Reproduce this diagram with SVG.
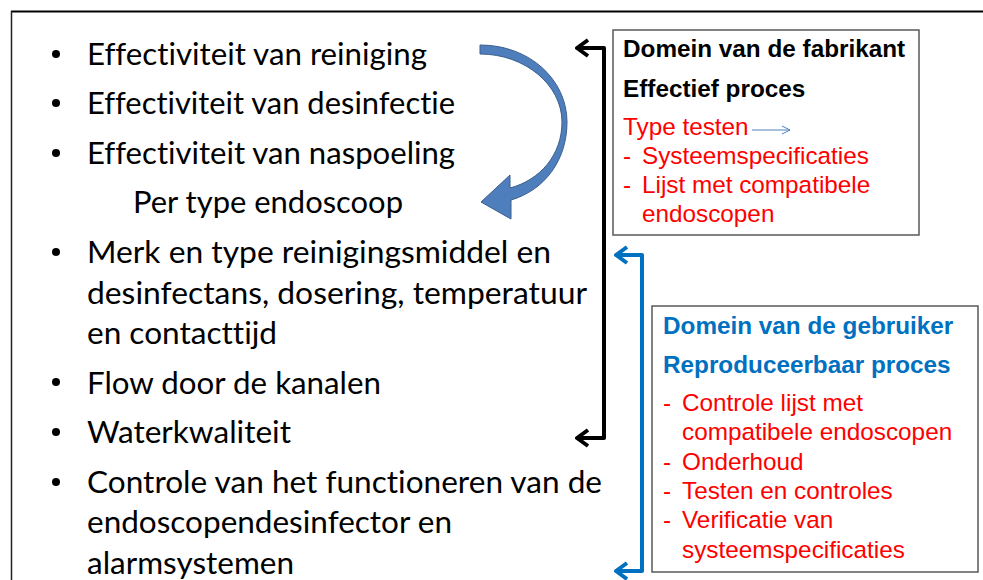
<svg xmlns="http://www.w3.org/2000/svg" width="983" height="580" viewBox="0 0 983 580">
<style>
.lt{font-family:Lato,"Open Sans","Noto Sans",sans-serif;font-size:30px;fill:#000;font-variant-ligatures:none}
.bx{font-family:"Liberation Sans",Arial,sans-serif;font-size:24.3px}
.b{font-weight:bold}
.red{fill:#FF0000}
.blu{fill:#0070C0}
.blk{fill:#000}
.box{fill:#fff;stroke:#595959;stroke-width:1.5}
.brk{fill:none;stroke-width:4;stroke-linejoin:round;stroke-linecap:butt}
</style>
<rect width="983" height="580" fill="#fff"/>
<g id="frame">
<line x1="11" y1="11.5" x2="983" y2="11.5" stroke="#000" stroke-width="2"/>
<line x1="11.5" y1="11" x2="11.5" y2="580" stroke="#222" stroke-width="1.5"/>
</g>
<g id="list">
<g fill="#000">
<circle cx="56" cy="54" r="4"/>
<circle cx="56" cy="103" r="4"/>
<circle cx="56" cy="153" r="4"/>
<circle cx="56" cy="252" r="4"/>
<circle cx="56" cy="382" r="4"/>
<circle cx="56" cy="432" r="4"/>
<circle cx="56" cy="482" r="4"/>
</g>
<text class="lt" x="87" y="65" textLength="340" lengthAdjust="spacingAndGlyphs">Effectiviteit van reiniging</text>
<text class="lt" x="87" y="114" textLength="368" lengthAdjust="spacingAndGlyphs">Effectiviteit van desinfectie</text>
<text class="lt" x="87" y="164" textLength="368" lengthAdjust="spacingAndGlyphs">Effectiviteit van naspoeling</text>
<text class="lt" x="133" y="213" textLength="270" lengthAdjust="spacingAndGlyphs">Per type endoscoop</text>
<text class="lt" x="87" y="263" textLength="464" lengthAdjust="spacingAndGlyphs">Merk en type reinigingsmiddel en</text>
<text class="lt" x="87" y="304" textLength="500" lengthAdjust="spacingAndGlyphs">desinfectans, dosering, temperatuur</text>
<text class="lt" x="87" y="344" textLength="190" lengthAdjust="spacingAndGlyphs">en contacttijd</text>
<text class="lt" x="87" y="394" textLength="294" lengthAdjust="spacingAndGlyphs">Flow door de kanalen</text>
<text class="lt" x="87" y="443" textLength="204" lengthAdjust="spacingAndGlyphs">Waterkwaliteit</text>
<text class="lt" x="87" y="493" textLength="515" lengthAdjust="spacingAndGlyphs">Controle van het functioneren van de</text>
<text class="lt" x="87" y="533" textLength="365" lengthAdjust="spacingAndGlyphs">endoscopendesinfector  en</text>
<text class="lt" x="87" y="574" textLength="207" lengthAdjust="spacingAndGlyphs">alarmsystemen</text>
</g>
<g id="box-fabrikant">
<rect class="box" x="613" y="30" width="306" height="205"/>
<text class="bx b blk" x="623" y="57">Domein van de fabrikant</text>
<text class="bx b blk" x="623" y="97">Effectief proces</text>
<text class="bx red" x="623" y="135">Type testen</text>
<text class="bx red" x="623" y="164">-</text>
<text class="bx red" x="642" y="164">Systeemspecificaties</text>
<text class="bx red" x="623" y="193">-</text>
<text class="bx red" x="642" y="193">Lijst met compatibele</text>
<text class="bx red" x="642" y="222">endoscopen</text>
</g>
<g id="box-gebruiker">
<rect class="box" x="652" y="306" width="326" height="266"/>
<text class="bx b blu" x="663" y="334">Domein van de gebruiker</text>
<text class="bx b blu" x="663" y="373">Reproduceerbaar proces</text>
<text class="bx red" x="663" y="411">-</text>
<text class="bx red" x="682" y="411">Controle lijst met</text>
<text class="bx red" x="682" y="440">compatibele endoscopen</text>
<text class="bx red" x="663" y="470">-</text>
<text class="bx red" x="682" y="470">Onderhoud</text>
<text class="bx red" x="663" y="499">-</text>
<text class="bx red" x="682" y="499">Testen en controles</text>
<text class="bx red" x="663" y="528">-</text>
<text class="bx red" x="682" y="528">Verificatie van</text>
<text class="bx red" x="682" y="558">systeemspecificaties</text>
</g>
<g id="connectors">
<path id="curved-arrow" d="M480,45 C530,45 567,80 567,122 C567,160 545,190 511,200 L511,219 L481,202 L510,175 L510,188 C540,180 562,155 562,122 C562,85 525,54 480,54 Z" fill="#4F7EBC" stroke="#3B5E8C" stroke-width="1"/>
<path class="brk" stroke="#000" d="M578,48 H604 V438 H578"/>
<path class="brk" stroke="#000" d="M588,40 L577,48 L588,56 M588,430 L577,438 L588,446"/>
<path class="brk" stroke="#0070C0" d="M616,255 H642 V571 H616"/>
<path class="brk" stroke="#0070C0" d="M627,247 L616,255 L627,263 M627,563 L616,571 L627,579"/>
<path d="M752,130 H790 M782,126 L790,130 L782,134" fill="none" stroke="#4F81BD" stroke-width="1"/>
</g>
</svg>
